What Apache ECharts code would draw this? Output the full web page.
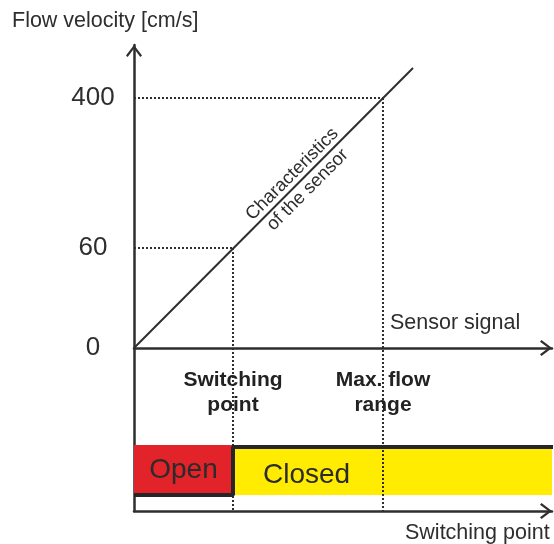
<!DOCTYPE html>
<html>
<head>
<meta charset="utf-8">
<script src="https://cdn.jsdelivr.net/npm/echarts@6/dist/echarts.min.js"></script>
<style>html,body{margin:0;padding:0;background:#fff}#c{width:554px;height:544px}</style>
</head>
<body>
<div id="c"></div>
<script>
// Schematic (not to scale) chart: values are positions on the drawing's axes
const velocityLabels = ['0', '60', '400'];
const velocityPositions = [0, 1, 2.5];
const switchingSignal = 0.99;
const maxFlowSignal = 2.49;
const characteristicSignal = [0, 2.79];
const characteristicPosition = [0, 2.8];
const stateNames = ['Open', 'Closed'];
const stateLevels = [-1.47, -0.99];
const openBandTop = -0.97;
const signalEnd = 4.19;
const annotationLevel = -0.445;

const INK = '#2e2e2e';
const FONT = 'Liberation Sans, Arial, sans-serif';
const chevron = 'path://M0,10.5 L8,0 L16,10.5 L14.3,12 L8,3.6 L1.7,12 Z';

const chart = echarts.init(document.getElementById('c'), null, {renderer: 'canvas'});

const axisBase = {
  type: 'value', min: 0, max: 4.18,
  axisTick: {show: false}, axisLabel: {show: false}, splitLine: {show: false}
};

const guide = (pts) => ({
  type: 'line', data: pts, symbol: 'none', silent: true, z: 3,
  lineStyle: {color: INK, width: 2, type: [2, 2]}, animation: false
});

const yBottom = -1.63;

const series = [
  {
    type: 'line', symbol: 'none', silent: true, z: 4, animation: false,
    data: characteristicSignal.map((x, i) => [x, characteristicPosition[i]]),
    lineStyle: {color: INK, width: 2}
  },
  guide([[0, velocityPositions[2]], [maxFlowSignal, velocityPositions[2]]]),
  guide([[0, velocityPositions[1]], [switchingSignal, velocityPositions[1]]]),
  guide([[switchingSignal, velocityPositions[1]], [switchingSignal, yBottom]]),
  guide([[maxFlowSignal, velocityPositions[2]], [maxFlowSignal, yBottom]]),
  {
    type: 'line', symbol: 'none', silent: true, z: 5, clip: false, animation: false,
    step: 'end',
    data: [[0, stateLevels[0]], [switchingSignal, stateLevels[1]], [signalEnd, stateLevels[1]]],
    lineStyle: {color: '#262626', width: 4},
    markArea: {
      silent: true,
      data: [
        [{xAxis: 0, yAxis: stateLevels[0], itemStyle: {color: '#e2232a'},
          label: {show: true, position: 'inside', formatter: stateNames[0], fontSize: 28, color: '#2b2b2b', fontFamily: FONT}},
         {xAxis: switchingSignal, yAxis: openBandTop}],
        [{xAxis: switchingSignal, yAxis: stateLevels[0], itemStyle: {color: '#ffec00'},
          label: {show: true, position: 'insideLeft', distance: 30, offset: [0, 4], formatter: stateNames[1], fontSize: 28, color: '#2b2b2b', fontFamily: FONT}},
         {xAxis: signalEnd, yAxis: stateLevels[1]}]
      ]
    }
  },
  {
    type: 'scatter', symbolSize: 0, silent: true, z: 6, animation: false,
    itemStyle: {opacity: 1},
    data: [
      {value: [1.66, 1.66], label: {formatter: 'Characteristics\nof the sensor', rotate: 45, fontSize: 18.5, lineHeight: 22, fontWeight: 'normal', color: INK}},
      {value: [switchingSignal, annotationLevel], label: {formatter: 'Switching\npoint'}},
      {value: [maxFlowSignal, annotationLevel], label: {formatter: 'Max. flow\nrange'}}
    ],
    label: {show: true, position: 'inside', color: '#222', opacity: 1, fontFamily: FONT, fontSize: 21, fontWeight: 'bold', lineHeight: 25, align: 'center', verticalAlign: 'middle'}
  }
];

chart.setOption({
  animation: false,
  grid: {left: 134, right: 2, top: 45, bottom: 33, containLabel: false},
  xAxis: [
    Object.assign({}, axisBase, {position: 'top',
      axisLine: {show: true, onZero: true, symbol: ['none', chevron], symbolSize: [16, 12], symbolOffset: [0, -6], lineStyle: {color: INK, width: 2.5}}}),
    Object.assign({}, axisBase, {position: 'bottom',
      axisLine: {show: true, onZero: false, symbol: ['none', chevron], symbolSize: [16, 12], symbolOffset: [0, -6], lineStyle: {color: INK, width: 2.5}}})
  ],
  yAxis: {
    type: 'value', min: yBottom, max: 3.03,
    axisLine: {show: true, onZero: false, symbol: ['none', chevron], symbolSize: [16, 12], symbolOffset: [0, -6], lineStyle: {color: INK, width: 2.5}},
    axisTick: {show: false}, splitLine: {show: false},
    axisLabel: {
      show: true, customValues: velocityPositions,
      formatter: (v) => velocityLabels[velocityPositions.indexOf(v)],
      fontSize: 26, color: INK, fontFamily: FONT, align: 'center', margin: 41
    }
  },
  graphic: [
    {type: 'text', left: 12, top: 10, silent: true, style: {text: 'Flow velocity [cm/s]', font: '21.5px ' + FONT, fill: INK}},
    {type: 'text', left: 390, top: 312, silent: true, style: {text: 'Sensor signal', font: '21.5px ' + FONT, fill: INK}},
    {type: 'text', left: 405, top: 522, silent: true, style: {text: 'Switching point', font: '21.5px ' + FONT, fill: INK}}
  ],
  series: series
});
</script>
</body>
</html>
